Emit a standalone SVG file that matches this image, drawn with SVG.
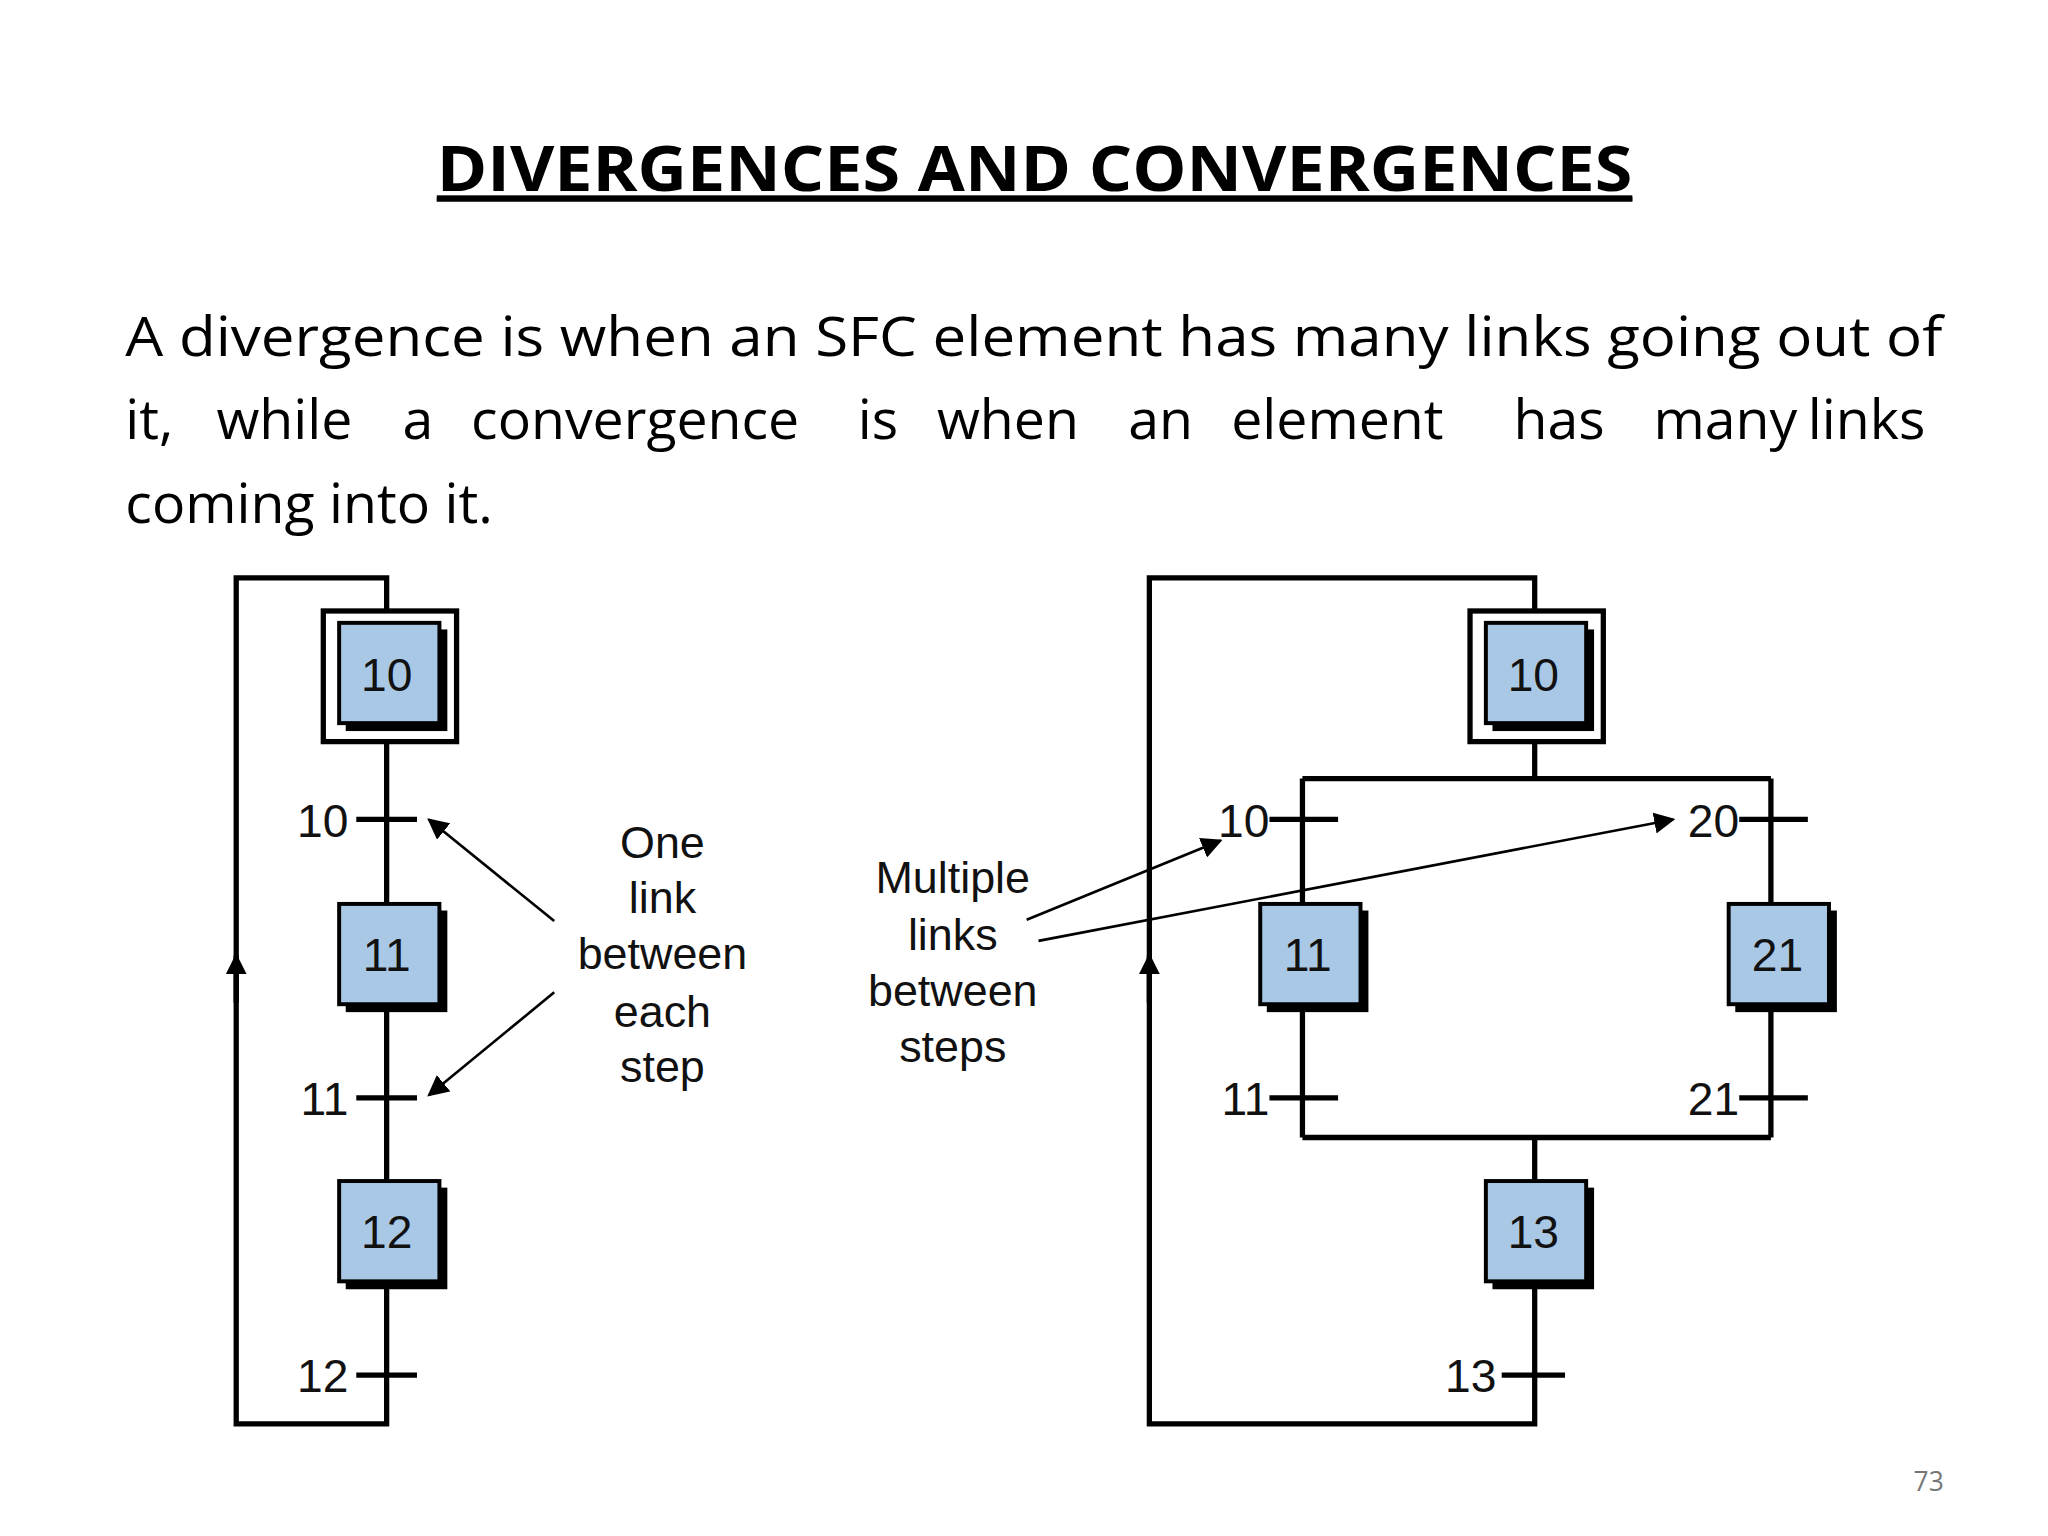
<svg xmlns="http://www.w3.org/2000/svg" width="2048" height="1536" viewBox="0 0 2048 1536">
<defs>
<style>
.ln{stroke:#000;stroke-width:4;fill:none}
.ar{stroke:#000;stroke-width:2;fill:none}
.sh{fill:#000}
.bx{fill:#a9c8e6;stroke:#000;stroke-width:3}
.num{font-family:"Liberation Sans",Arial,sans-serif;font-size:35px;fill:#111}
.lbl{font-family:"Liberation Sans",Arial,sans-serif;font-size:34px;fill:#111;text-anchor:middle}
.p{font-family:"Open Sans","Noto Sans",sans-serif;font-size:42px;fill:#000}
</style>
<marker id="ah" viewBox="0 0 10 10" refX="9" refY="5" markerWidth="7" markerHeight="7" orient="auto" markerUnits="userSpaceOnUse"><path d="M0,0L10,5L0,10z" fill="#000"/></marker>
<marker id="ah2" viewBox="0 0 10 10" refX="9" refY="5" markerWidth="16" markerHeight="16" orient="auto" markerUnits="userSpaceOnUse"><path d="M0,0L10,5L0,10z" fill="#000"/></marker>
</defs>
<rect width="2048" height="1536" fill="#fff"/>
<g transform="scale(1.3196)">
<text x="784" y="145" text-anchor="middle" font-family="Open Sans,Noto Sans,sans-serif" font-weight="bold" font-size="48" textLength="906" lengthAdjust="spacingAndGlyphs" text-decoration="underline">DIVERGENCES AND CONVERGENCES</text>
<line x1="331" y1="151" x2="1237" y2="151" stroke="#000" stroke-width="3"/>
<text class="p" x="95" y="270" textLength="1377" lengthAdjust="spacingAndGlyphs">A divergence is when an SFC element has many links going out of</text>
<g class="p">
<text x="95" y="333">it,</text><text x="164" y="333">while</text><text x="305" y="333">a</text><text x="357" y="333">convergence</text><text x="650" y="333">is</text><text x="710" y="333">when</text><text x="855" y="333">an</text><text x="933" y="333">element</text><text x="1147" y="333">has</text><text x="1253" y="333">many</text><text x="1370" y="333">links</text>
</g>
<text class="p" x="95" y="396">coming into it.</text>

<g id="connectors">
<path class="ln" d="M293,562V1079H179V438H293V463"/>
<path class="ln" d="M270,621H316M270,832H316M270,1042H316"/>
<line class="ln" x1="179" y1="760" x2="179" y2="724" marker-end="url(#ah2)"/>
<line class="ar" x1="420" y1="698" x2="325" y2="621" marker-end="url(#ah2)"/>
<line class="ar" x1="420" y1="752" x2="325" y2="830" marker-end="url(#ah2)"/>
<path class="ln" d="M1163,562V590M987,590H1342M987,590V862M1342,590V862M987,862H1342M1163,862V1079H871V438H1163V463"/>
<path class="ln" d="M962,621H1014M1318,621H1370M962,832H1014M1318,832H1370M1138,1042H1186"/>
<line class="ln" x1="871" y1="760" x2="871" y2="724" marker-end="url(#ah2)"/>
<line class="ar" x1="778" y1="697" x2="925" y2="637" marker-end="url(#ah2)"/>
<line class="ar" x1="787" y1="713" x2="1268" y2="621" marker-end="url(#ah2)"/>
</g>
<g class="num" text-anchor="end">
<text x="264" y="634">10</text><text x="264" y="845">11</text><text x="264" y="1055">12</text>
<text x="962" y="634">10</text><text x="1318" y="634">20</text><text x="962" y="845">11</text><text x="1318" y="845">21</text><text x="1134" y="1055">13</text>
</g>
<g id="L10"><rect x="245" y="463" width="101" height="99" fill="#fff" stroke="#000" stroke-width="4"/><rect class="sh" x="262" y="477" width="77" height="77"/><rect class="bx" x="257" y="472" width="76" height="76"/><text class="num" x="293" y="524" text-anchor="middle">10</text></g>
<g id="L11"><rect class="sh" x="262" y="690" width="77" height="77"/><rect class="bx" x="257" y="685" width="76" height="76"/><text class="num" x="293" y="736" text-anchor="middle">11</text></g>
<g id="L12"><rect class="sh" x="262" y="900" width="77" height="77"/><rect class="bx" x="257" y="895" width="76" height="76"/><text class="num" x="293" y="946" text-anchor="middle">12</text></g>
<g id="R10"><rect x="1114" y="463" width="101" height="99" fill="#fff" stroke="#000" stroke-width="4"/><rect class="sh" x="1131" y="477" width="77" height="77"/><rect class="bx" x="1126" y="472" width="76" height="76"/><text class="num" x="1162" y="524" text-anchor="middle">10</text></g>
<g id="R11"><rect class="sh" x="960" y="690" width="77" height="77"/><rect class="bx" x="955" y="685" width="76" height="76"/><text class="num" x="991" y="736" text-anchor="middle">11</text></g>
<g id="R21"><rect class="sh" x="1315" y="690" width="77" height="77"/><rect class="bx" x="1310" y="685" width="76" height="76"/><text class="num" x="1347" y="736" text-anchor="middle">21</text></g>
<g id="R13"><rect class="sh" x="1131" y="900" width="77" height="77"/><rect class="bx" x="1126" y="895" width="76" height="76"/><text class="num" x="1162" y="946" text-anchor="middle">13</text></g>
<g id="note1" class="lbl"><text x="502" y="650">One</text><text x="502" y="692">link</text><text x="502" y="734">between</text><text x="502" y="778">each</text><text x="502" y="820">step</text></g>
<g id="note2" class="lbl"><text x="722" y="677">Multiple</text><text x="722" y="720">links</text><text x="722" y="762">between</text><text x="722" y="805">steps</text></g>
<text x="1473" y="1130" text-anchor="end" font-family="Open Sans,sans-serif" font-size="20" fill="#777">73</text>
</g>
</svg>
